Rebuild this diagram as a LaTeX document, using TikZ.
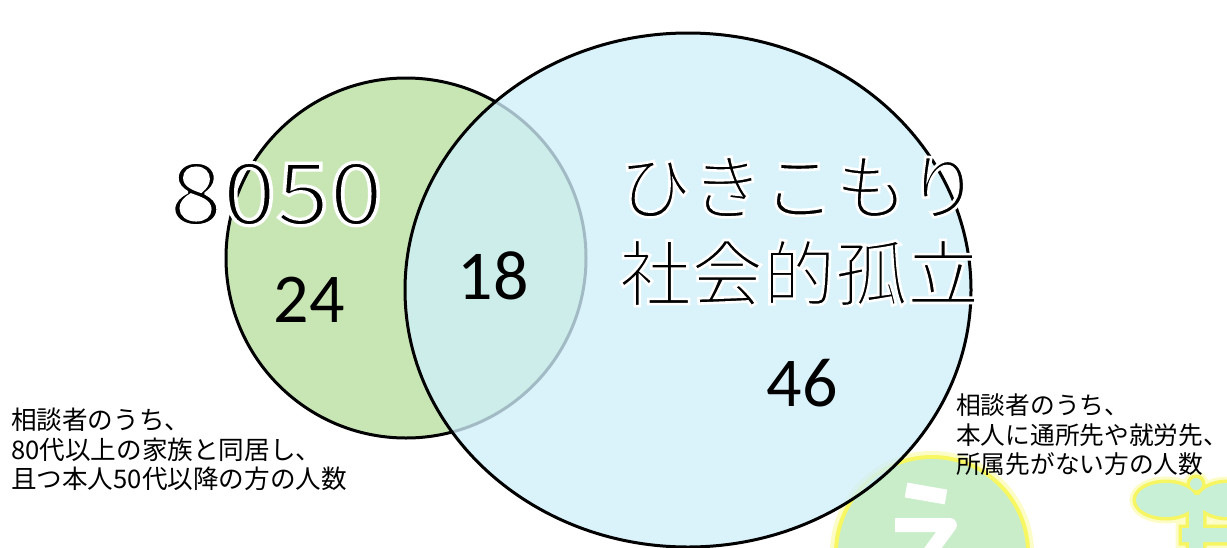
\documentclass[tikz,border=0pt]{standalone}
\usepackage{fontspec}
\usepackage{graphicx}
\newfontfamily\jpfont{Noto Sans CJK JP}
\newfontfamily\numfont{Carlito}

% outlined lettering: fill in black, then stroke the glyph edges in white,
% which thins the strokes and leaves a white rim around each glyph
\newcommand\haloed[2]{\special{pdf:literal direct 2 Tr #1 w 1 1 1 RG}#2\special{pdf:literal direct 0 Tr 0 0 0 RG}}

\definecolor{setgreen}{RGB}{200,230,180}
\definecolor{setblue}{RGB}{207,239,250}
\definecolor{logogreen}{RGB}{200,237,200}
\definecolor{logomint}{RGB}{200,240,215}
\definecolor{glowyellow}{RGB}{245,245,70}

\begin{document}
\begin{tikzpicture}[x=1pt,y=-1pt,
  ring/.style={line width=3pt, draw=black},
  bignum/.style={font=\numfont\fontsize{70}{70}\selectfont, inner sep=0pt},
  title/.style={font=\jpfont\fontsize{72}{72}\selectfont, inner sep=0pt},
  desc/.style={font=\jpfont\fontsize{25.6}{29.5}\selectfont, inner sep=0pt, align=left}]

\useasboundingbox (0,0) rectangle (1227,547);

% logo marks peeking in at the lower right
\begin{scope}
  \clip (0,0) rectangle (1227,547);
  % round mark with a white kana stroke
  \fill[glowyellow!30] (932,553) circle (102pt);
  \fill[glowyellow!85] (932,553) circle (98pt);
  \fill[logogreen] (932,553) circle (94pt);
  \draw[white, line width=15pt] (906,490) -- (946,497);
  \draw[white, line width=14pt, line join=round] (895,525) -- (950,525) -- (924,560);
  % sprout mark
  \foreach \lw/\col in {13pt/glowyellow!30, 7pt/glowyellow!85} {
    \draw[line width=\lw, draw=\col]
      (1166,500) ellipse [x radius=30pt, y radius=17pt]
      (1228,500) ellipse [x radius=30pt, y radius=17pt]
      (1196,484) circle (6pt)
      (1189,495) rectangle (1203,560)
      (1182,528) rectangle (1240,542);
  }
  \fill[logomint]
    (1166,500) ellipse [x radius=30pt, y radius=17pt]
    (1228,500) ellipse [x radius=30pt, y radius=17pt]
    (1196,484) circle (6pt)
    (1189,495) rectangle (1203,560)
    (1182,528) rectangle (1240,542);
\end{scope}

% the two sets
\fill[setgreen] (406,258) circle (180pt);
\draw[ring] (406,258) circle (180pt);
\fill[setblue, fill opacity=0.78] (688,290) ellipse [x radius=283pt, y radius=257pt];
\draw[ring] (688,290) ellipse [x radius=283pt, y radius=257pt];

% counts
\node[bignum] (n24) at (309,300) {24};
\node[bignum] (n18) at (493,276) {18};
\node[bignum] (n46) at (802,383) {46};

% definitions
\node[desc, anchor=north west] (dleft) at (11,408)
  {相談者のうち、\\80代以上の家族と同居し、\\且つ本人50代以降の方の人数};
\node[desc, font=\jpfont\fontsize{24.7}{29.5}\selectfont, anchor=north west] (dright) at (956,394)
  {相談者のうち、\\本人に通所先や就労先、\\所属先がない方の人数};

% set titles
\node[title, font=\jpfont\fontsize{86}{86}\selectfont] (t8050) at (276,194)
  {\scalebox{1.12}[1]{\haloed{3.2}{8050}}};
\node[title, anchor=west] (thiki) at (619,187) {\haloed{2.6}{ひきこもり}};
\node[title, anchor=west] (tkoritsu) at (619,273) {\haloed{2.6}{社会的孤立}};
\end{tikzpicture}
\end{document}
